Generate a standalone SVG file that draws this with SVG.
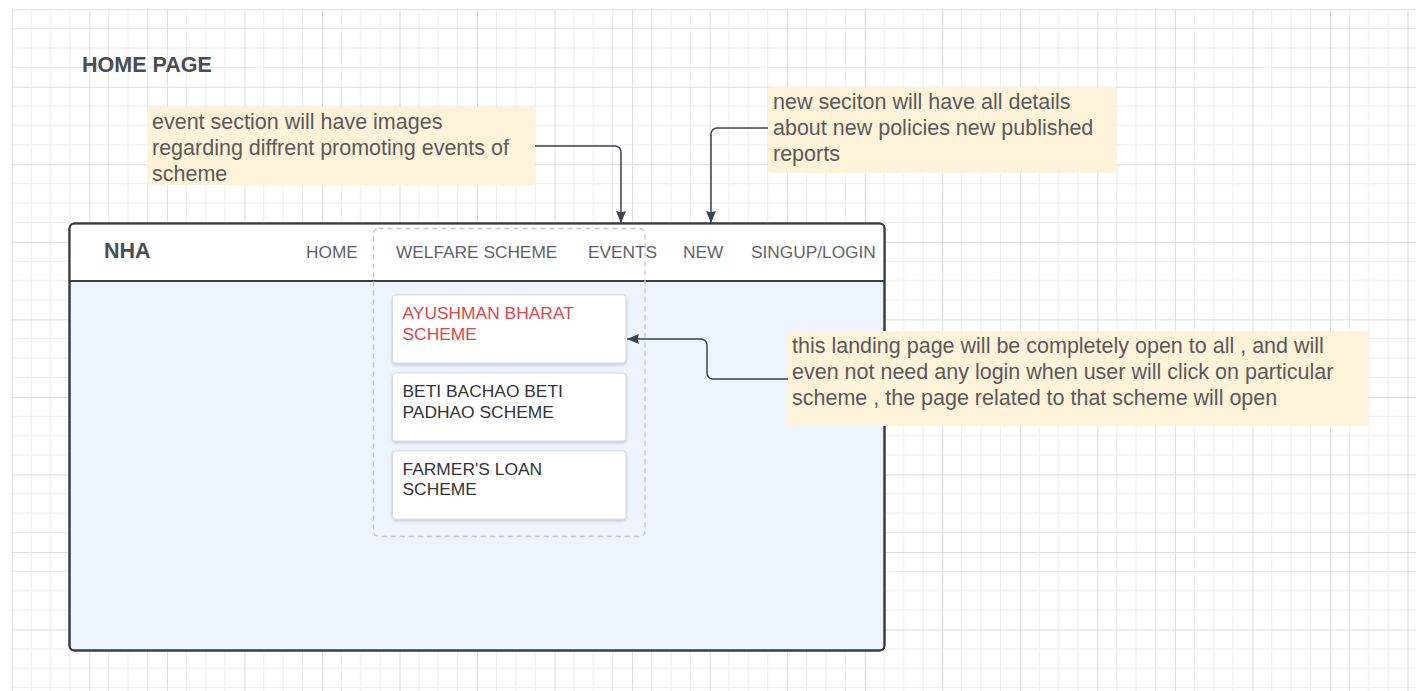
<svg xmlns="http://www.w3.org/2000/svg" width="1416" height="691" viewBox="0 0 1416 691">
<style>
.title{font-family:"Liberation Sans",Arial,sans-serif;font-weight:bold;font-size:21.5px;fill:#4a4d52}
.nav{font-family:"Liberation Sans",Arial,sans-serif;font-size:17.3px;fill:#5f6368}
.card{fill:#ffffff;stroke:#d6d9de;stroke-width:1}
.ct{font-family:"Liberation Sans",Arial,sans-serif;font-size:17.4px;fill:#333538}
.ct.red{fill:#e04848}
.note{fill:#fef2d9}
.nt{font-family:"Liberation Sans",Arial,sans-serif;font-size:21.5px;fill:#5a5a5a}
.conn{fill:none;stroke:#3d434b;stroke-width:1.5}
</style>
<defs>
<pattern id="grid" x="11.8" y="9.2" width="77.54" height="77.54" patternUnits="userSpaceOnUse">
<path d="M19.385 0V77.54M38.77 0V77.54M58.155 0V77.54M0 19.385H77.54M0 38.77H77.54M0 58.155H77.54" stroke="#ececec" stroke-width="1" fill="none"/>
<path d="M0.5 0V77.54M0 0.5H77.54" stroke="#dcdcdc" stroke-width="1" fill="none"/>
</pattern>
<marker id="arr" viewBox="0 0 12 10" refX="12" refY="5" markerWidth="12" markerHeight="10" markerUnits="userSpaceOnUse" orient="auto">
<path d="M0 0L12 5L0 10L1.5 5Z" fill="#3d434b"/>
</marker>
<filter id="sh" x="-10%" y="-10%" width="120%" height="130%">
<feDropShadow dx="0" dy="1.5" stdDeviation="1.5" flood-color="#000" flood-opacity="0.18"/>
</filter>
</defs>
<rect x="0" y="0" width="1416" height="691" fill="#ffffff"/>
<rect x="11.8" y="9.2" width="1404.2" height="681.8" fill="url(#grid)"/>

<g id="title"><text class="title" x="82" y="72">HOME PAGE</text></g>

<g id="frame">
<rect x="69.5" y="223.5" width="815" height="427" rx="5" fill="#edf4fe" stroke="#3a3d42" stroke-width="2"/>
<path d="M70.5 280.5V228.5a4 4 0 0 1 4-4H879.5a4 4 0 0 1 4 4V280.5Z" fill="#ffffff"/>
<line x1="69.5" y1="281" x2="884.5" y2="281" stroke="#3a3d42" stroke-width="2"/>
<rect x="69.5" y="223.5" width="815" height="427" rx="5" fill="none" stroke="#3a3d42" stroke-width="2"/>
</g>

<g id="navbar">
<text class="title" x="104" y="258">NHA</text>
<text class="nav" x="306" y="258">HOME</text>
<text class="nav" x="396" y="258">WELFARE SCHEME</text>
<text class="nav" x="588" y="258">EVENTS</text>
<text class="nav" x="683" y="258">NEW</text>
<text class="nav" x="751" y="258">SINGUP/LOGIN</text>
</g>

<g id="dropdown">
<rect x="373.5" y="228.5" width="271.5" height="308" rx="5" fill="none" stroke="#c4c8ce" stroke-width="1.3" stroke-dasharray="5 4"/>
</g>

<g id="card-ayushman">
<rect class="card" x="392.5" y="295" width="233.5" height="68" rx="3" filter="url(#sh)"/>
<text class="ct red" x="402.5" y="318.5">AYUSHMAN BHARAT</text>
<text class="ct red" x="402.5" y="340">SCHEME</text>
</g>
<g id="card-beti">
<rect class="card" x="392.5" y="373" width="233.5" height="68" rx="3" filter="url(#sh)"/>
<text class="ct" x="402.5" y="396.5">BETI BACHAO BETI</text>
<text class="ct" x="402.5" y="417.5">PADHAO SCHEME</text>
</g>
<g id="card-farmer">
<rect class="card" x="392.5" y="451" width="233.5" height="68" rx="3" filter="url(#sh)"/>
<text class="ct" x="402.5" y="474.5">FARMER'S LOAN</text>
<text class="ct" x="402.5" y="495">SCHEME</text>
</g>

<g id="note-events">
<rect class="note" x="147" y="107" width="388" height="78" rx="3"/>
<text class="nt" x="152" y="129">event section will have images</text>
<text class="nt" x="152" y="155">regarding diffrent promoting events of</text>
<text class="nt" x="152" y="181">scheme</text>
</g>

<g id="note-new">
<rect class="note" x="768" y="87" width="349" height="86" rx="3"/>
<text class="nt" x="773" y="109">new seciton will have all details</text>
<text class="nt" x="773" y="135">about new policies new published</text>
<text class="nt" x="773" y="161">reports</text>
</g>

<g id="note-landing">
<rect class="note" x="788" y="331" width="580" height="95" rx="3"/>
<text class="nt" x="792" y="353">this landing page will be completely open to all , and will</text>
<text class="nt" x="792" y="379">even not need any login when user will click on particular</text>
<text class="nt" x="792" y="405">scheme , the page related to that scheme will open</text>
</g>

<g id="connectors">
<path class="conn" d="M535 146H615a6 6 0 0 1 6 6V223" marker-end="url(#arr)"/>
<path class="conn" d="M768 128H717a6 6 0 0 0-6 6V223" marker-end="url(#arr)"/>
<path class="conn" d="M788 379H713a6 6 0 0 1-6-6V345a6 6 0 0 0-6-6H627" marker-end="url(#arr)"/>
</g>
</svg>
